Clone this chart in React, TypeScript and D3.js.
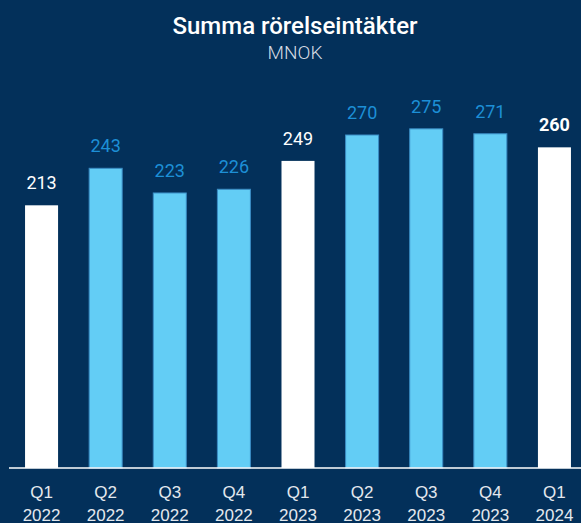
import React from 'react';
import * as d3 from 'd3';

const quarters = ['Q1', 'Q2', 'Q3', 'Q4', 'Q1', 'Q2', 'Q3', 'Q4', 'Q1'];
const years = ['2022', '2022', '2022', '2022', '2023', '2023', '2023', '2023', '2024'];
const values = [213, 243, 223, 226, 249, 270, 275, 271, 260];
const highlighted = [true, false, false, false, true, false, false, false, true];

const width = 581;
const height = 523;
const baseY = 468;

const navy = '#03305A';
const lightBlue = '#63CDF5';
const blueText = '#1D8FD6';

const App = () => {
    const keys = quarters.map((q, i) => `${q} ${years[i]}`);

    const x = d3.scaleBand<string>()
        .domain(keys)
        .range([9.5, 586.5])
        .paddingInner(0.485)
        .paddingOuter(0.2425);

    const y = d3.scaleLinear()
        .domain([0, 300])
        .range([baseY, baseY - 370]);

    const font = 'Roboto, "Noto Sans", sans-serif';
    const axisFont = '"Liberation Sans", Arial, sans-serif';

    return (
        <svg width={width} height={height} style={{ position: 'fixed', left: 0, top: 0, display: 'block' }}>
            <rect width={width} height={height} fill={navy} />

            {/* title */}
            <text x={295} y={34} textAnchor="middle" fill="#fff" fontFamily={font} fontSize={24} fontWeight={500}>
                Summa rörelseintäkter
            </text>
            <text x={295} y={59} textAnchor="middle" fill="#D5DCE4" fontFamily={font} fontSize={19} fontWeight={300}>
                MNOK
            </text>

            {/* bars */}
            {values.map((v, i) => {
                const k = keys[i];
                const hi = highlighted[i];
                const cx = (x(k) as number) + x.bandwidth() / 2;
                return (
                    <g key={k}>
                        <rect
                            x={x(k)}
                            y={y(v)}
                            width={x.bandwidth()}
                            height={y(0) - y(v)}
                            fill={hi ? '#fff' : lightBlue}
                            stroke={hi ? 'none' : '#3A8CC4'}
                            strokeWidth={1}
                        />
                        <text
                            x={cx}
                            y={y(v) - 16}
                            textAnchor="middle"
                            fill={hi ? '#fff' : blueText}
                            fontFamily={font}
                            fontSize={18}
                            fontWeight={i === values.length - 1 ? 700 : 400}
                        >
                            {v}
                        </text>
                        <text x={cx} y={497.5} textAnchor="middle" fill="#E3E8EE" fontFamily={axisFont} fontSize={17}>
                            {quarters[i]}
                        </text>
                        <text x={cx} y={520.5} textAnchor="middle" fill="#E3E8EE" fontFamily={axisFont} fontSize={17}>
                            {years[i]}
                        </text>
                    </g>
                );
            })}

            {/* baseline */}
            <line x1={9} x2={width} y1={baseY} y2={baseY} stroke="#fff" strokeWidth={1.5} />
        </svg>
    );
};

export default App;
